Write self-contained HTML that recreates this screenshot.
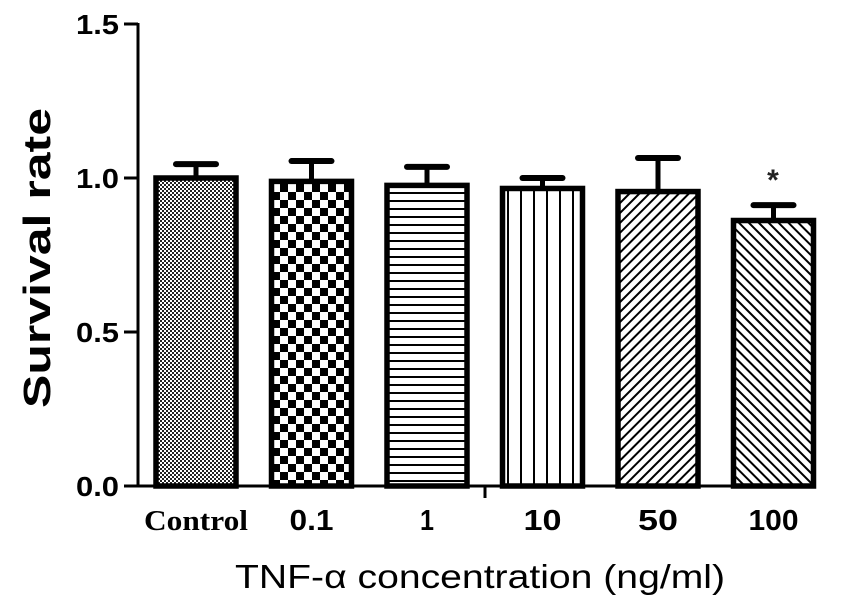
<!DOCTYPE html>
<html><head><meta charset="utf-8"><style>body{margin:0;background:#fff}svg{display:block}</style></head>
<body>
<svg id="chart" width="848" height="607" viewBox="0 0 848 607" xmlns="http://www.w3.org/2000/svg">
<defs>
<pattern id="p0" width="4" height="4" patternUnits="userSpaceOnUse"><rect width="4" height="4" fill="#fff"/><rect width="2" height="2" fill="#222"/><rect x="2" y="2" width="2" height="2" fill="#222"/></pattern>
<pattern id="p1" width="16" height="16" patternUnits="userSpaceOnUse"><rect width="16" height="16" fill="#fff"/><rect width="8" height="8" fill="#000"/><rect x="8" y="8" width="8" height="8" fill="#000"/></pattern>
<pattern id="p2" width="10" height="8" patternUnits="userSpaceOnUse"><rect width="10" height="8" fill="#fff"/><rect y="0" width="10" height="2" fill="#000"/></pattern>
<pattern id="p3" width="13" height="10" patternUnits="userSpaceOnUse"><rect width="13" height="10" fill="#fff"/><rect x="0" width="2" height="10" fill="#000"/></pattern>
<pattern id="p4" width="7" height="7" patternUnits="userSpaceOnUse" patternTransform="rotate(45)"><rect width="7" height="7" fill="#fff"/><rect width="2" height="7" fill="#000"/></pattern>
<pattern id="p5" width="7" height="7" patternUnits="userSpaceOnUse" patternTransform="rotate(-45)"><rect width="7" height="7" fill="#fff"/><rect width="2" height="7" fill="#000"/></pattern>
</defs>
<g id="bars"></g>
<g id="axes"></g>
<text transform="translate(50,258) rotate(-90)" text-anchor="middle" font-family="Liberation Sans, sans-serif" font-weight="bold" font-size="38" textLength="300" lengthAdjust="spacingAndGlyphs">Survival rate</text>
<text x="480" y="588" text-anchor="middle" font-family="Liberation Sans, sans-serif" font-size="33" textLength="490" lengthAdjust="spacingAndGlyphs">TNF-α  concentration (ng/ml)</text>
<text x="773" y="190" text-anchor="middle" font-family="Liberation Sans, sans-serif" font-weight="bold" font-size="30" fill="#222">*</text>
</svg>
<script>
const categories = ["Control","0.1","1","10","50","100"];
const values = [1.0, 0.989, 0.976, 0.966, 0.956, 0.862];
const errors = [0.045, 0.066, 0.06, 0.034, 0.109, 0.05];
const yTicks = [0.0, 0.5, 1.0, 1.5];
const yTickLabels = ["0.0","0.5","1.0","1.5"];
const NS="http://www.w3.org/2000/svg";
const y0=486, y1=24, x0=138, xEnd=815;
const yScale=v=>y0-(v/1.5)*(y0-y1);
const barW=80, slot=115.5, firstCenter=196;
const xCenter=i=>firstCenter+i*slot;
function mk(tag,attrs,parent){const e=document.createElementNS(NS,tag);for(const k in attrs)e.setAttribute(k,attrs[k]);parent.appendChild(e);return e;}
const bars=document.getElementById('bars'), axes=document.getElementById('axes');
const labelW=[104,44,14,38,40,50];
categories.forEach((c,i)=>{
  const cx=xCenter(i), top=yScale(values[i]), et=yScale(values[i]+errors[i]);
  const eb=mk('line',{x1:cx,x2:cx,y1:top,y2:et,stroke:'#000','stroke-width':5},bars);
  
  
  const cap=mk('line',{x1:cx-20,x2:cx+20,y1:et,y2:et,stroke:'#000','stroke-width':6,'stroke-linecap':'round'},bars);
  
  
  const r=mk('rect',{x:cx-barW/2,y:top,width:barW,height:y0-top,fill:'url(#p'+i+')',stroke:'#000','stroke-width':5.5},bars);
  
  
  const t=mk('text',{x:cx,y:530,'text-anchor':'middle','font-weight':'bold','font-size':c==='Control'?29:29,'font-family':c==='Control'?'Liberation Serif, serif':'Liberation Sans, sans-serif',textLength:labelW[i],lengthAdjust:'spacingAndGlyphs'},axes);
  t.textContent=c;
  
  
});
const ya=mk('line',{x1:x0,x2:x0,y1:y1-1,y2:y0+1,stroke:'#000','stroke-width':3},axes);


const xa=mk('line',{x1:x0,x2:xEnd,y1:y0,y2:y0,stroke:'#000','stroke-width':3},axes);


const xt=mk('line',{x1:485,x2:485,y1:y0,y2:y0+12,stroke:'#000','stroke-width':3},axes);


yTicks.forEach((v,i)=>{
  const y=yScale(v);
  const tk=mk('line',{x1:x0-14,x2:x0,y1:y,y2:y,stroke:'#000','stroke-width':3},axes);
  
  
  const t=mk('text',{x:x0-19,y:y+10,'text-anchor':'end','font-weight':'bold','font-size':28,'font-family':'Liberation Sans, sans-serif',textLength:43,lengthAdjust:'spacingAndGlyphs'},axes);
  t.textContent=yTickLabels[i];
  
  
});
</script>
</body></html>
